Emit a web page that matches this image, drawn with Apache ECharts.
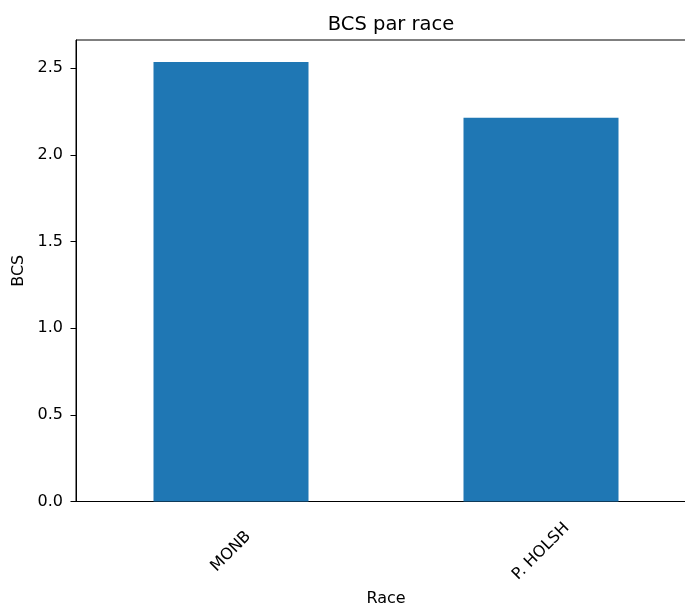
<!DOCTYPE html>
<html>
<head>
<meta charset="utf-8">
<script src="https://cdn.jsdelivr.net/npm/echarts@6/dist/echarts.min.js"></script>
<style>html,body{margin:0;padding:0;background:#fff}#c{width:685px;height:606px}</style>
</head>
<body>
<div id="c"></div>
<script>
const categories = ["MONB", "P. HOLSH"];
const bcsValues = [2.535, 2.213];
const yTicks = [0, 0.5, 1.0, 1.5, 2.0, 2.5];

const chart = echarts.init(document.getElementById('c'), null, {renderer: 'canvas'});
const font = 'DejaVu Sans';
chart.setOption({
  animation: false,
  backgroundColor: '#fff',
  title: {
    text: 'BCS par race',
    left: 386,
    top: 10,
    textAlign: 'center',
    textStyle: {fontFamily: font, fontSize: 19.5, fontWeight: 'normal', color: '#000'}
  },
  grid: {
    left: 76, top: 40, width: 620, height: 461.5,
    outerBoundsMode: 'none',
    show: true, borderColor: '#000', borderWidth: 1, backgroundColor: 'transparent',
    containLabel: false
  },
  xAxis: {
    type: 'category',
    data: categories,
    boundaryGap: true,
    name: 'Race',
    nameLocation: 'middle',
    nameGap: 89,
    nameTextStyle: {fontFamily: font, fontSize: 16, color: '#000', verticalAlign: 'top'},
    axisLine: {lineStyle: {color: '#000', width: 1}},
    axisTick: {alignWithLabel: true, length: 5.5, lineStyle: {color: '#000'}},
    axisLabel: {
      rotate: 45, align: 'center', verticalAlign: 'middle', margin: 50,
      fontFamily: font, fontSize: 16, color: '#000'
    },
    splitLine: {show: false}
  },
  yAxis: {
    type: 'value',
    min: 0,
    max: 2.662,
    interval: 0.5,
    name: 'BCS',
    nameLocation: 'middle',
    nameGap: 49.5,
    nameTextStyle: {fontFamily: font, fontSize: 16, color: '#000'},
    axisLine: {show: true, lineStyle: {color: '#000', width: 1}},
    axisTick: {show: true, length: 5.5, lineStyle: {color: '#000'}, customValues: yTicks},
    axisLabel: {
      margin: 13, fontFamily: font, fontSize: 16, color: '#000',
      customValues: yTicks,
      formatter: v => v.toFixed(1)
    },
    splitLine: {show: false}
  },
  series: [{
    type: 'bar',
    data: bcsValues,
    barWidth: '50%',
    itemStyle: {color: '#1f77b4'}
  }]
});
</script>
</body>
</html>
